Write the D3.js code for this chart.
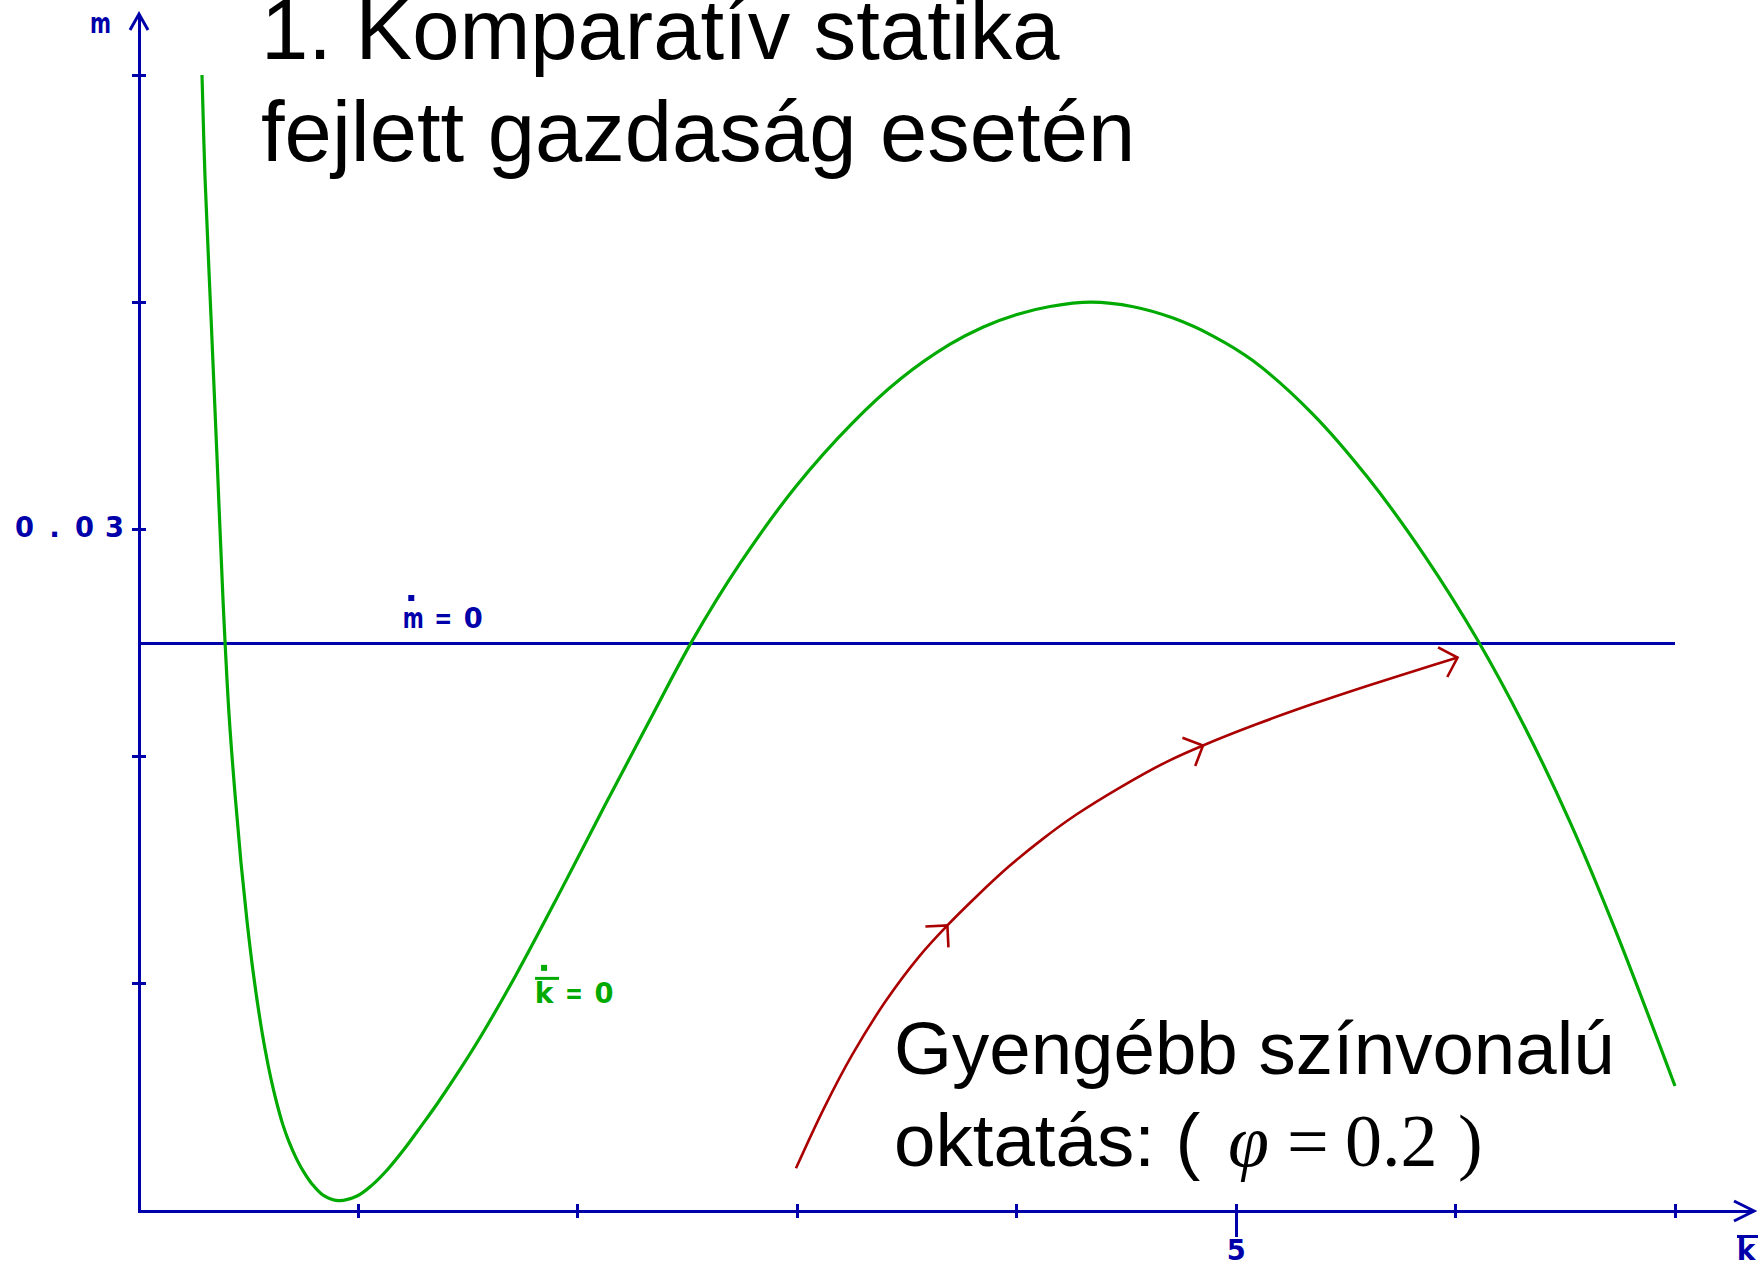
<!DOCTYPE html>
<html>
<head>
<meta charset="utf-8">
<script src="https://cdn.jsdelivr.net/npm/d3@7"></script>
<style>
  html, body { margin: 0; padding: 0; background: #ffffff; overflow: hidden; }
  svg { display: block; }
</style>
</head>
<body>
<svg id="chart" width="1758" height="1267"></svg>
<script>
// ---- data -------------------------------------------------------------
// k-dot = 0 locus: capital per effective worker (k) against m
const kdotK = [0.2871, 0.3008, 0.3282, 0.3555, 0.3829, 0.4102, 0.4376, 0.4649, 0.4923, 0.5196,
               0.5469, 0.5743, 0.6016, 0.6290, 0.6563, 0.6837, 0.7201, 0.7520, 0.7885, 0.8387,
               0.9070, 0.9936, 1.0620, 1.1349, 1.2124, 1.2899, 1.3582, 1.4631, 1.5634, 1.7174,
               1.9216, 2.1258, 2.3304, 2.5196, 2.7389, 2.9944, 3.2499, 3.4696, 3.6945, 3.8478,
               4.0010, 4.1518, 4.3390, 4.5309, 4.7128, 4.8947, 5.0772, 5.3459, 5.6009, 5.8569,
               6.1022, 6.3168, 6.5212, 6.7251, 7.0000];
const kdotM = [0.05000, 0.04551, 0.03935, 0.03318, 0.02689, 0.02187, 0.01835, 0.01532, 0.01276, 0.01056,
               0.00871, 0.00713, 0.00581, 0.00471, 0.00378, 0.00304, 0.00225, 0.00170, 0.00119, 0.00070,
               0.00046, 0.00066, 0.00114, 0.00185, 0.00277, 0.00379, 0.00471, 0.00623, 0.00778, 0.01038,
               0.01409, 0.01790, 0.02165, 0.02507, 0.02850, 0.03190, 0.03467, 0.03662, 0.03814, 0.03891,
               0.03946, 0.03981, 0.04000, 0.03980, 0.03930, 0.03851, 0.03742, 0.03511, 0.03227, 0.02887,
               0.02510, 0.02127, 0.01713, 0.01244, 0.00550];

// m-dot = 0 locus: horizontal level over the k range
const mdotLevel = 0.025;
const mdotSpan = [0, 7];

// adjustment path under weaker education (phi = 0.2)
const pathK = [2.994, 3.122, 3.250, 3.403, 3.556, 3.684, 3.812, 3.965, 4.119, 4.272,
               4.476, 4.681, 4.849, 5.089, 5.345, 5.600, 5.805, 6.009];
const pathM = [0.00188, 0.00453, 0.00687, 0.00924, 0.01121, 0.01257, 0.01380, 0.01517, 0.01638, 0.01745,
               0.01867, 0.01976, 0.02049, 0.02141, 0.02230, 0.02312, 0.02375, 0.02436];
const pathArrowIdx = [5, 12, 17];

// axes
const xDomain = [0, 7];
const yDomain = [0, 0.05];
const xTicks = [1, 2, 3, 4, 5, 6, 7];
const xTickLabels = [{ v: 5, text: "5" }];
const yTicks = [0.01, 0.02, 0.03, 0.04, 0.05];
const yTickLabels = [{ v: 0.03, text: "0.03" }];

// curve labels, placed at (k, m) of their first character's baseline
const curveLabels = [
  { text: "m=0", k: 1.25, m: 0.02566, color: "blue", bar: false },
  { text: "k=0", k: 1.846, m: 0.00916, color: "green", bar: true }
];

const titleLines = ["1. Komparatív statika", "fejlett gazdaság esetén"];
const noteLine1 = "Gyengébb színvonalú";
const noteLine2Sans = "oktatás: (";
const noteLine2Math = [{ t: "φ", italic: true }, { t: "=", italic: false }, { t: "0.2", italic: false }, { t: ")", italic: false }];

// ---- style ------------------------------------------------------------
const COLORS = { blue: "#0000aa", green: "#00aa00", red: "#aa0000" };
const PIXEL_FONT = "'DejaVu Sans', sans-serif";
const PITCH = 30;

// ---- layout -----------------------------------------------------------
const svg = d3.select("#chart");
const x = d3.scaleLinear().domain(xDomain).range([139, 1675]);
const y = d3.scaleLinear().domain(yDomain).range([1211, 75]);
const x0 = x(0), y0 = y(0);

// ---- axes -------------------------------------------------------------
const axes = svg.append("g").attr("stroke", COLORS.blue).attr("stroke-width", 3)
  .attr("fill", "none").attr("shape-rendering", "crispEdges");

// vertical axis with arrow
const yTop = y.range()[1] - 61;
axes.append("line").attr("x1", x0).attr("x2", x0).attr("y1", y0 + 1.5).attr("y2", yTop);
axes.append("path").attr("shape-rendering", "auto")
  .attr("d", `M${x0 - 9},${yTop + 16} L${x0},${yTop} L${x0 + 9},${yTop + 16}`);

// horizontal axis with arrow
const xEnd = x.range()[1] + 79;
axes.append("line").attr("x1", x0 - 1.5).attr("x2", xEnd).attr("y1", y0).attr("y2", y0);
axes.append("path").attr("shape-rendering", "auto")
  .attr("d", `M${xEnd - 20},${y0 - 10} L${xEnd},${y0} L${xEnd - 20},${y0 + 10}`);

// ticks crossing the axis
axes.selectAll(".ytick").data(yTicks).join("line").attr("class", "ytick")
  .attr("x1", x0 - 7).attr("x2", x0 + 7).attr("y1", d => y(d)).attr("y2", d => y(d));
const labelledX = new Set(xTickLabels.map(d => d.v));
axes.selectAll(".xtick").data(xTicks).join("line").attr("class", "xtick")
  .attr("x1", d => x(d)).attr("x2", d => x(d))
  .attr("y1", y0 - 7).attr("y2", d => labelledX.has(d) ? y0 + 26 : y0 + 7);

// blocky fixed-pitch lettering used for the axis annotations
const glyphWidth = { m: 21, "0": 19, "3": 19, "5": 19, "=": 18 };
function pixelText(g, str, cx, baseline, color) {
  [...str].forEach((ch, i) => {
    const t = g.append("text")
      .attr("x", cx + i * PITCH).attr("y", baseline)
      .attr("text-anchor", "middle")
      .attr("font-family", PIXEL_FONT).attr("font-weight", "bold")
      .attr("font-size", 28).attr("fill", color)
      .text(ch);
    if (glyphWidth[ch]) {
      t.attr("textLength", glyphWidth[ch]).attr("lengthAdjust", "spacingAndGlyphs");
    }
  });
}

const lab = svg.append("g");
// tick labels
yTickLabels.forEach(d => {
  const n = d.text.length;
  pixelText(lab, d.text, x0 - 24.5 - (n - 1) * PITCH, y(d.v) + 8, COLORS.blue);
});
xTickLabels.forEach(d => {
  pixelText(lab, d.text, x(d.v), y0 + 49, COLORS.blue);
});
// axis names
pixelText(lab, "m", x0 - 38.5, yTop + 19, COLORS.blue);
pixelText(lab, "k", xEnd - 8, y0 + 49, COLORS.blue);
lab.append("rect").attr("x", xEnd - 17).attr("y", y0 + 24).attr("width", 24).attr("height", 3)
  .attr("fill", COLORS.blue);

// ---- m-dot = 0 line ---------------------------------------------------
svg.append("line")
  .attr("x1", x(mdotSpan[0])).attr("x2", x(mdotSpan[1]))
  .attr("y1", y(mdotLevel)).attr("y2", y(mdotLevel))
  .attr("stroke", COLORS.blue).attr("stroke-width", 3).attr("shape-rendering", "crispEdges");

// ---- k-dot = 0 curve --------------------------------------------------
const line = d3.line().x(d => x(d[0])).y(d => y(d[1])).curve(d3.curveCatmullRom.alpha(0.5));
svg.append("path")
  .datum(d3.zip(kdotK, kdotM))
  .attr("d", line)
  .attr("fill", "none").attr("stroke", COLORS.green).attr("stroke-width", 3.2);

// ---- adjustment path with arrowheads -----------------------------------
const pathPts = d3.zip(pathK, pathM);
svg.append("path")
  .datum(pathPts)
  .attr("d", line)
  .attr("fill", "none").attr("stroke", COLORS.red).attr("stroke-width", 2.6);

const arrowLen = 22;
svg.append("g").selectAll("path").data(pathArrowIdx).join("path")
  .attr("d", i => {
    const p = pathPts[i], q = pathPts[i - 1];
    const tx = x(p[0]), ty = y(p[1]);
    const ang = Math.atan2(ty - y(q[1]), tx - x(q[0])) + Math.PI;
    const a1 = ang - Math.PI / 4, a2 = ang + Math.PI / 4;
    return `M${tx + arrowLen * Math.cos(a1)},${ty + arrowLen * Math.sin(a1)} L${tx},${ty} ` +
           `L${tx + arrowLen * Math.cos(a2)},${ty + arrowLen * Math.sin(a2)}`;
  })
  .attr("fill", "none").attr("stroke", COLORS.red).attr("stroke-width", 2.6);

// ---- curve labels (dot = time derivative, bar = per-worker quantity) ---
curveLabels.forEach(d => {
  const cx = x(d.k), base = y(d.m), col = COLORS[d.color];
  pixelText(lab, d.text, cx, base, col);
  if (d.bar) {
    lab.append("rect").attr("x", cx - 9).attr("y", base - 26).attr("width", 24).attr("height", 3).attr("fill", col);
    lab.append("rect").attr("x", cx - 3).attr("y", base - 38).attr("width", 6).attr("height", 6).attr("fill", col);
  } else {
    lab.append("rect").attr("x", cx - 5).attr("y", base - 33).attr("width", 6).attr("height", 6).attr("fill", col);
  }
});

// ---- text blocks ------------------------------------------------------
const title = svg.append("text")
  .attr("font-family", "'Liberation Sans', Arial, sans-serif")
  .attr("font-size", 85).attr("fill", "#000");
titleLines.forEach((t, i) => {
  title.append("tspan").attr("x", 261).attr("y", 59 + i * 102).text(t);
});

const note = svg.append("g")
  .attr("font-family", "'Liberation Sans', Arial, sans-serif")
  .attr("fill", "#000");
note.append("text").attr("x", 894).attr("y", 1074).attr("font-size", 74.5).text(noteLine1);
const l2 = note.append("text").attr("x", 894).attr("y", 1166).attr("font-size", 74.5);
l2.append("tspan").text(noteLine2Sans);
const mathX = [1228, 1287, 1345, 1458];
noteLine2Math.forEach((d, i) => {
  l2.append("tspan")
    .attr("x", mathX[i])
    .attr("font-family", "'Liberation Serif', 'Times New Roman', serif")
    .attr("font-style", d.italic ? "italic" : "normal")
    .attr("font-size", 74)
    .text(d.t);
});
</script>
</body>
</html>
